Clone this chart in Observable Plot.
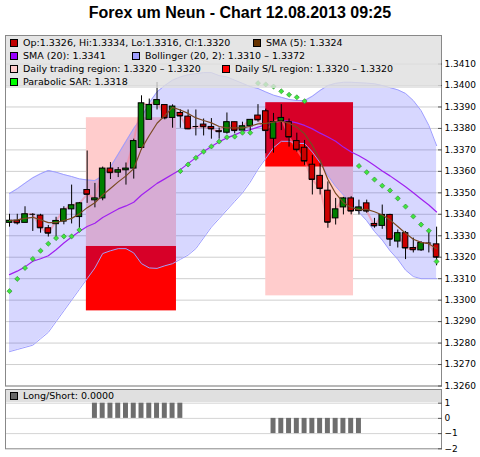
<!DOCTYPE html>
<html><head><meta charset="utf-8">
<script src="https://cdn.jsdelivr.net/npm/d3@7"></script>
<script src="https://cdn.jsdelivr.net/npm/@observablehq/plot@0.6"></script>
<style>
body{margin:0;background:#fff;}
#wrap{position:relative;width:480px;height:457px;overflow:hidden;font-family:"DejaVu Sans",sans-serif;}
#title{position:absolute;left:0;top:4px;width:480px;text-align:center;font:bold 16px "Liberation Sans",Arial,sans-serif;color:#000;}
.panel{position:absolute;left:0;}
.legend{position:absolute;left:6px;width:435px;background:rgba(222,222,222,0.8);font-size:9.5px;color:#000;}
.item{position:absolute;height:12px;line-height:12px;white-space:nowrap;}
.sw{display:inline-block;width:6px;height:6px;border:1px solid #000;vertical-align:middle;margin-right:5px;position:relative;top:-1px}
</style></head>
<body>
<div id="wrap">
  <div id="main" class="panel" style="top:0"></div>
  <div id="lower" class="panel" style="top:380px"></div>
  <div class="legend" id="leg1" style="top:36px;height:52px"></div>
  <div class="legend" id="leg2" style="top:390px;height:12px;background:#e0e0e0"></div>
  <div id="title"></div>
</div>
<script>
const title = "Forex um Neun - Chart 12.08.2013 09:25";

// OHLC per candle (index 0..55)
const open  = [1.3336,1.3337,1.3336,1.3340,1.33394,1.33335,1.33354,1.33366,1.33423,1.33387,
  1.33513,1.33465,1.33474,1.33613,1.33594,1.33605,1.33613,1.33709,1.3384,1.33909,
  1.33909,1.33849,1.33872,1.33855,1.33809,1.33818,1.33807,1.33787,1.3378,1.33829,
  1.3379,1.3381,1.3386,1.3388,1.33752,1.33834,1.33829,1.33741,1.3371,1.33631,
  1.33579,1.3351,1.33381,1.33432,1.33474,1.33415,1.33451,1.33355,1.33346,1.33397,
  1.33273,1.33312,1.33243,1.33232,1.33266,1.3326];
const high  = [1.3340,1.3340,1.33435,1.33403,1.3340,1.33348,1.33386,1.33435,1.33536,1.33455,
  1.33695,1.33544,1.3362,1.33641,1.33618,1.33639,1.3375,1.33952,1.33937,1.34014,
  1.3391,1.3391,1.33887,1.33886,1.33886,1.33844,1.33846,1.33802,1.33872,1.33829,
  1.33829,1.3384,1.33911,1.3389,1.3387,1.33911,1.33844,1.33778,1.33744,1.33675,
  1.33636,1.33551,1.33474,1.33479,1.33482,1.33466,1.33466,1.33381,1.33443,1.334,
  1.33327,1.3332,1.33289,1.33273,1.3332,1.3334];
const low   = [1.3334,1.3335,1.3336,1.3332,1.33312,1.33294,1.33281,1.33351,1.33355,1.33335,
  1.33451,1.3343,1.33463,1.33562,1.33571,1.33536,1.33564,1.3370,1.3384,1.33886,
  1.3384,1.33801,1.33801,1.33798,1.33765,1.33765,1.3375,1.3375,1.33773,1.33775,
  1.33775,1.33775,1.33829,1.33682,1.33685,1.3379,1.33713,1.3369,1.33628,1.3349,
  1.3349,1.33335,1.3335,1.33397,1.33397,1.33397,1.33405,1.33335,1.3333,1.3325,
  1.33243,1.33189,1.3322,1.33227,1.3322,1.3316];
const close = [1.3337,1.3336,1.3340,1.3340,1.33337,1.33312,1.33369,1.33423,1.33442,1.33451,
  1.33493,1.33474,1.33613,1.33594,1.33605,1.33613,1.33741,1.33917,1.33909,1.33932,
  1.33849,1.33902,1.33858,1.33798,1.33809,1.33808,1.33798,1.33785,1.33829,1.3379,
  1.3381,1.3384,1.3384,1.3379,1.33829,1.33849,1.3376,1.33701,1.33648,1.33562,
  1.3352,1.33363,1.33423,1.33474,1.33415,1.33432,1.33415,1.33346,1.33397,1.33284,
  1.33312,1.33243,1.33235,1.33266,1.33266,1.3320];

// indicators
const sma5 = [1.33371,1.33374,1.33381,1.33386,1.33374,1.33361,1.33361,1.33371,1.33381,1.33402,
  1.33431,1.33454,1.3349,1.3352,1.33551,1.33579,1.33613,1.33706,1.33767,1.33824,
  1.3386,1.33898,1.33886,1.3387,1.33849,1.33837,1.33826,1.33809,1.33803,1.33803,
  1.33803,1.3381,1.33821,1.33824,1.33829,1.33834,1.33824,1.33806,1.33775,1.33721,
  1.33652,1.33562,1.33497,1.33454,1.33432,1.33422,1.33423,1.33412,1.33397,1.33374,
  1.33343,1.33312,1.33284,1.33269,1.33263,1.3324];
const sma20 = [1.33119,1.33135,1.33155,1.33181,1.33193,1.33207,1.33235,1.33266,1.33294,1.3332,
  1.33343,1.33358,1.33385,1.33405,1.33425,1.33439,1.33456,1.3349,1.33517,1.33544,
  1.33565,1.33587,1.33608,1.33636,1.33664,1.33693,1.33716,1.33738,1.33756,1.3377,
  1.33786,1.33794,1.33806,1.33817,1.33826,1.33835,1.33834,1.33826,1.33814,1.33798,
  1.33778,1.3376,1.3374,1.33713,1.3369,1.33673,1.33652,1.33627,1.33602,1.33579,
  1.33554,1.33528,1.3350,1.33471,1.33443,1.33411];
const bbUpper = [1.33497,1.33519,1.33545,1.3357,1.33589,1.33604,1.33596,1.33585,1.33576,1.33565,
  1.3356,1.33557,1.3358,1.3362,1.3368,1.3374,1.3380,1.3385,1.3392,1.3397,
  1.3400,1.34025,1.3404,1.3405,1.34055,1.3406,1.3406,1.34046,1.3404,1.34025,
  1.3401,1.33995,1.33986,1.3397,1.33955,1.33945,1.33935,1.3393,1.3393,1.3395,
  1.33977,1.3400,1.3401,1.34015,1.34015,1.34013,1.34011,1.34008,1.3400,1.3399,
  1.3398,1.33963,1.3393,1.33883,1.33814,1.3372];
const bbLower = [1.3276,1.3277,1.3278,1.3279,1.3282,1.3285,1.3290,1.3295,1.3300,1.3305,
  1.3310,1.3315,1.33217,1.3323,1.3324,1.3324,1.3322,1.3317,1.3315,1.33148,
  1.3316,1.3317,1.3319,1.3321,1.3324,1.3329,1.3334,1.3338,1.3342,1.3346,
  1.3350,1.3355,1.3361,1.3366,1.3371,1.3374,1.3374,1.3373,1.3373,1.3369,
  1.3364,1.3358,1.3353,1.3349,1.3345,1.3341,1.3337,1.3332,1.3328,1.3323,
  1.3319,1.3314,1.3311,1.3310,1.3310,1.3310];
const sar = [1.33042,1.33099,1.3315,1.33192,1.3323,1.33263,1.33289,1.33297,1.33297,1.33327,
  null,null,null,null,null,null,null,null,null,null,
  null,null,1.33601,1.33632,1.33663,1.33692,1.33716,1.33739,1.33759,1.33762,
  1.3378,1.3378,1.34011,1.34005,1.33995,1.33973,1.33957,1.33945,1.33927,null,
  null,null,null,null,null,1.33625,1.33596,1.33562,1.33533,1.33511,
  1.33474,1.33436,1.3339,1.33352,1.33323,1.3318];
const longShort = [0,0,0,0,0,0,0,0,0,0, 0,1,1,1,1,1,1,1,1,1, 1,1,1,0,0,0,0,0,0,0,
  0,0,0,0,-1,-1,-1,-1,-1,-1, -1,-1,-1,-1,-1,-1,0,0,0,0, 0,0,0,0,0,0];

// trade regions (x in candle index units)
const tradeStart = [9.9, 33.0];
const tradeEnd   = [21.5, 44.3];
const tradeLo    = [1.3325, 1.3302];
const tradeHi    = [1.3385, 1.3362];
const slLo       = [1.3295, 1.3362];
const slHi       = [1.3325, 1.3392];

const priceTicks = [1.3260,1.3270,1.3280,1.3290,1.3300,1.3310,1.3320,1.3330,1.3340,1.3350,1.3360,1.3370,1.3380,1.3390,1.3400,1.3410];
const lsTicks = [-2,-1,0,1];

const legendMain = [
  {label:"Op:1.3326, Hi:1.3334, Lo:1.3316, Cl:1.3320", color:"#c00000"},
  {label:"SMA (5): 1.3324", color:"#663300"},
  {label:"SMA (20): 1.3341", color:"#9900ff"},
  {label:"Bollinger (20, 2): 1.3310 \u2013 1.3372", color:"#a0a0ff"},
  {label:"Daily trading region: 1.3320 \u2013 1.3320", color:"#ffcccc"},
  {label:"Daily S/L region: 1.3320 \u2013 1.3320", color:"#ff0000"},
  {label:"Parabolic SAR: 1.3318", color:"#00ff00"}
];
const legendLower = [{label:"Long/Short: 0.0000", color:"#666666"}];

// layout of legend items (px within legend box)
const legendPos = [[4,1],[247,1],[4,14],[126,14],[4,27],[216,27],[4,40]];

const rows = open.map((o, i) => ({i, o, h: high[i], l: low[i], c: close[i],
  sma5: sma5[i], sma20: sma20[i], bbHi: bbUpper[i], bbLo: bbLower[i], sar: sar[i], ls: longShort[i]}));
const trades = tradeStart.map((s, k) => ({start: s, end: tradeEnd[k], tLo: tradeLo[k], tHi: tradeHi[k], sLo: slLo[k], sHi: slHi[k]}));

const xDomain = [-0.515, 55.63];
const half = 0.36;

const main = Plot.plot({
  width: 480, height: 390,
  marginTop: 35, marginBottom: 4.5, marginLeft: 5, marginRight: 39,
  x: {domain: xDomain, axis: null},
  y: {domain: [1.3260, 1.34233], axis: null},
  style: {background: "transparent", fontFamily: "DejaVu Sans, sans-serif", fontSize: "9px", color: "#000", overflow: "visible"},
  marks: [
    Plot.ruleY(priceTicks, {stroke: "#cfcfcf"}),
    Plot.rect(trades, {x1: "start", x2: "end", y1: "tLo", y2: "tHi", fill: "#ffcccc"}),
    Plot.rect(trades, {x1: "start", x2: "end", y1: "sLo", y2: "sHi", fill: "#ff0000"}),
    Plot.areaY(rows, {x: "i", y1: "bbLo", y2: "bbHi", fill: "#0000ff", fillOpacity: 0.155}),
    Plot.line(rows, {x: "i", y: "bbHi", stroke: "#9d9dff", strokeWidth: 1}),
    Plot.line(rows, {x: "i", y: "bbLo", stroke: "#9d9dff", strokeWidth: 1}),
    Plot.line(rows, {x: "i", y: "c", stroke: "#ff7f90", strokeOpacity: 0.55, strokeWidth: 2}),
    Plot.line(rows, {x: "i", y: "sma20", stroke: "#a020f0", strokeWidth: 1.2}),
    Plot.ruleX(rows, {x: "i", y1: "l", y2: "h", stroke: "#000", strokeWidth: 1}),
    Plot.ruleY(rows, {y: "c", x1: d => d.i - half, x2: d => d.i + half, stroke: "#000"}),
    Plot.rect(rows, {x1: d => d.i - half, x2: d => d.i + half, y1: "o", y2: "c",
      fill: d => d.c >= d.o ? "#008000" : "#cc0000", stroke: "#000", strokeWidth: 1}),
    Plot.line(rows, {x: "i", y: "sma5", stroke: "#7a4a22", strokeWidth: 1.2}),
    Plot.dot(rows.filter(d => d.sar != null), {x: "i", y: "sar", symbol: "diamond2", r: 2.3,
      fill: "#3ee83e", stroke: "#2f7f2f", strokeWidth: 0.6}),
    Plot.frame({stroke: "#888"}),
    Plot.axisY(priceTicks, {anchor: "right", label: null, tickFormat: d3.format(".4f"), tickSize: -4, tickPadding: 7, stroke: "#555"})
  ]
});
document.getElementById("main").appendChild(main);

const lower = Plot.plot({
  width: 480, height: 77,
  marginTop: 9, marginBottom: 8.7, marginLeft: 5, marginRight: 39,
  x: {domain: xDomain, axis: null},
  y: {domain: [-2, 1.9], axis: null},
  style: {background: "transparent", fontFamily: "DejaVu Sans, sans-serif", fontSize: "9px", color: "#000", overflow: "visible"},
  marks: [
    Plot.ruleY([-1, 0, 1], {stroke: "#d4d4d4"}),
    Plot.rect(rows.filter(d => d.ls !== 0), {x1: d => d.i - 0.32, x2: d => d.i + 0.32, y1: 0, y2: "ls", fill: "#6e6e6e"}),
    Plot.frame({stroke: "#888"}),
    Plot.axisY(lsTicks, {anchor: "right", label: null, tickFormat: d3.format("d"), tickSize: -4, tickPadding: 7, stroke: "#555"})
  ]
});
document.getElementById("lower").appendChild(lower);

document.getElementById("title").textContent = title;

function fillLegend(el, items, pos) {
  items.forEach((it, k) => {
    const d = document.createElement("div");
    d.className = "item";
    d.style.left = pos[k][0] + "px";
    d.style.top = pos[k][1] + "px";
    const s = document.createElement("span");
    s.className = "sw";
    s.style.background = it.color;
    d.appendChild(s);
    d.appendChild(document.createTextNode(it.label));
    el.appendChild(d);
  });
}
fillLegend(document.getElementById("leg1"), legendMain, legendPos);
fillLegend(document.getElementById("leg2"), legendLower, [[4, 0]]);
</script>
</body></html>
